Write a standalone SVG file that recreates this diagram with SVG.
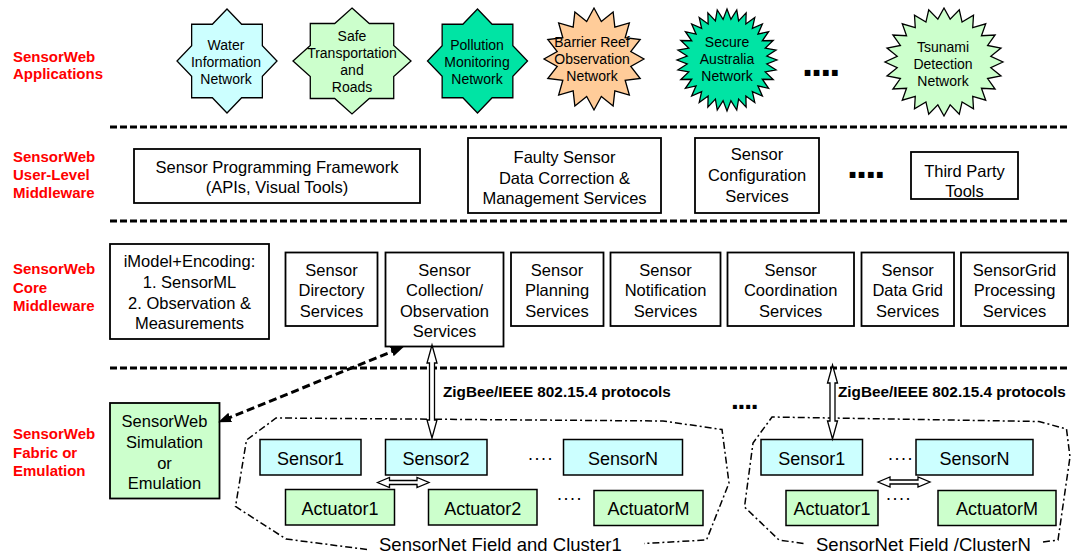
<svg xmlns="http://www.w3.org/2000/svg" xmlns:xlink="http://www.w3.org/1999/xlink" width="1073" height="554" viewBox="0 0 1073 554">
<style>
.lbl{font-family:"Liberation Sans",Arial,sans-serif;font-weight:bold;font-size:15px;fill:#ff0000}
.t{font-family:"Liberation Sans",Arial,sans-serif;font-size:16.5px;fill:#000;text-anchor:middle}
.ts{font-family:"Liberation Sans",Arial,sans-serif;font-size:14px;fill:#000;text-anchor:middle}
.tb{font-family:"Liberation Sans",Arial,sans-serif;font-size:18px;fill:#000;text-anchor:middle}
.tz{font-family:"Liberation Sans",Arial,sans-serif;font-size:15.3px;font-weight:bold;fill:#000}
.tc{font-family:"Liberation Sans",Arial,sans-serif;font-size:18.5px;fill:#000}
.dots{font-family:"Liberation Sans",Arial,sans-serif;font-weight:bold;fill:#000}
.sd{font-family:"Liberation Sans",Arial,sans-serif;font-size:18px;fill:#000;letter-spacing:1.5px}
.box{fill:#fff;stroke:#000;stroke-width:1.8}
.sen{fill:#ccffff;stroke:#000;stroke-width:1.5}
.act{fill:#ccffcc;stroke:#000;stroke-width:1.5}
.star{stroke:#000;stroke-width:1.3;vector-effect:non-scaling-stroke}
.sep{stroke:#000;stroke-width:3;stroke-dasharray:7 3;fill:none}
.clu{fill:none;stroke:#000;stroke-width:1.5;stroke-dasharray:7 3 2 3}
.blk{fill:#fff;stroke:#000;stroke-width:1.3}
.dash{fill:none;stroke:#000;stroke-width:3;stroke-dasharray:8 4}
</style>
<defs>
<marker id="ah" viewBox="0 0 13 10" refX="6" refY="5" markerWidth="13" markerHeight="10" markerUnits="userSpaceOnUse" orient="auto-start-reverse">
<path d="M0,0 L13,5 L0,10 Z" fill="#000"/>
</marker>
<polygon id="star8" class="star" points="0,-1 0.2929,-0.7071 0.7071,-0.7071 0.7071,-0.2929 1,0 0.7071,0.2929 0.7071,0.7071 0.2929,0.7071 0,1 -0.2929,0.7071 -0.7071,0.7071 -0.7071,0.2929 -1,0 -0.7071,-0.2929 -0.7071,-0.7071 -0.2929,-0.7071"/>
<polygon id="star16" class="star" points="1,0 0.7356,0.1463 0.9239,0.3827 0.6236,0.4167 0.7071,0.7071 0.4167,0.6236 0.3827,0.9239 0.1463,0.7356 0,1 -0.1463,0.7356 -0.3827,0.9239 -0.4167,0.6236 -0.7071,0.7071 -0.6236,0.4167 -0.9239,0.3827 -0.7356,0.1463 -1,0 -0.7356,-0.1463 -0.9239,-0.3827 -0.6236,-0.4167 -0.7071,-0.7071 -0.4167,-0.6236 -0.3827,-0.9239 -0.1463,-0.7356 0,-1 0.1463,-0.7356 0.3827,-0.9239 0.4167,-0.6236 0.7071,-0.7071 0.6236,-0.4167 0.9239,-0.3827 0.7356,-0.1463"/>
<polygon id="star24" class="star" points="1,0 0.7931,0.1044 0.9659,0.2588 0.7391,0.3062 0.8660,0.5 0.6347,0.4870 0.7071,0.7071 0.4870,0.6347 0.5,0.8660 0.3062,0.7391 0.2588,0.9659 0.1044,0.7931 0,1 -0.1044,0.7931 -0.2588,0.9659 -0.3062,0.7391 -0.5,0.8660 -0.4870,0.6347 -0.7071,0.7071 -0.6347,0.4870 -0.8660,0.5 -0.7391,0.3062 -0.9659,0.2588 -0.7931,0.1044 -1,0 -0.7931,-0.1044 -0.9659,-0.2588 -0.7391,-0.3062 -0.8660,-0.5 -0.6347,-0.4870 -0.7071,-0.7071 -0.4870,-0.6347 -0.5,-0.8660 -0.3062,-0.7391 -0.2588,-0.9659 -0.1044,-0.7931 0,-1 0.1044,-0.7931 0.2588,-0.9659 0.3062,-0.7391 0.5,-0.8660 0.4870,-0.6347 0.7071,-0.7071 0.6347,-0.4870 0.8660,-0.5 0.7391,-0.3062 0.9659,-0.2588 0.7931,-0.1044"/>
<polygon id="star32" class="star" points="1,0 0.7961,0.0784 0.9808,0.1951 0.7656,0.2322 0.9239,0.3827 0.7055,0.3771 0.8315,0.5556 0.6184,0.5075 0.7071,0.7071 0.5075,0.6184 0.5556,0.8315 0.3771,0.7055 0.3827,0.9239 0.2322,0.7656 0.1951,0.9808 0.0784,0.7961 0,1 -0.0784,0.7961 -0.1951,0.9808 -0.2322,0.7656 -0.3827,0.9239 -0.3771,0.7055 -0.5556,0.8315 -0.5075,0.6184 -0.7071,0.7071 -0.6184,0.5075 -0.8315,0.5556 -0.7055,0.3771 -0.9239,0.3827 -0.7656,0.2322 -0.9808,0.1951 -0.7961,0.0784 -1,0 -0.7961,-0.0784 -0.9808,-0.1951 -0.7656,-0.2322 -0.9239,-0.3827 -0.7055,-0.3771 -0.8315,-0.5556 -0.6184,-0.5075 -0.7071,-0.7071 -0.5075,-0.6184 -0.5556,-0.8315 -0.3771,-0.7055 -0.3827,-0.9239 -0.2322,-0.7656 -0.1951,-0.9808 -0.0784,-0.7961 0,-1 0.0784,-0.7961 0.1951,-0.9808 0.2322,-0.7656 0.3827,-0.9239 0.3771,-0.7055 0.5556,-0.8315 0.5075,-0.6184 0.7071,-0.7071 0.6184,-0.5075 0.8315,-0.5556 0.7055,-0.3771 0.9239,-0.3827 0.7656,-0.2322 0.9808,-0.1951 0.7961,-0.0784"/>
</defs>
<rect width="1073" height="554" fill="#fff"/>

<g id="layer-labels">
<text class="lbl" x="13" y="61.5">SensorWeb</text>
<text class="lbl" x="13" y="79">Applications</text>
<text class="lbl" x="13" y="161.5">SensorWeb</text>
<text class="lbl" x="13" y="179.5">User-Level</text>
<text class="lbl" x="13" y="198">Middleware</text>
<text class="lbl" x="13" y="274">SensorWeb</text>
<text class="lbl" x="13" y="292.5">Core</text>
<text class="lbl" x="13" y="311">Middleware</text>
<text class="lbl" x="13" y="438.5">SensorWeb</text>
<text class="lbl" x="13" y="457.5">Fabric or</text>
<text class="lbl" x="13" y="475.5">Emulation</text>
</g>

<g id="separators">
<line class="sep" x1="110" y1="127" x2="1068" y2="127"/>
<line class="sep" x1="110" y1="221" x2="1068" y2="221"/>
<line class="sep" x1="110" y1="368" x2="1068" y2="368"/>
</g>

<g id="app-water">
<use xlink:href="#star8" fill="#ccffff" transform="translate(227,61) scale(50,52)"/>
<text class="ts" x="226" y="50">Water</text>
<text class="ts" x="226" y="67">Information</text>
<text class="ts" x="226" y="84">Network</text>
</g>
<g id="app-safe">
<use xlink:href="#star8" fill="#ccffcc" transform="translate(352,61) scale(59,53)"/>
<text class="ts" x="352" y="41">Safe</text>
<text class="ts" x="352" y="58">Transportation</text>
<text class="ts" x="352" y="75">and</text>
<text class="ts" x="352" y="92">Roads</text>
</g>
<g id="app-pollution">
<use xlink:href="#star8" fill="#00e4a4" transform="translate(477.5,61) scale(50,52)"/>
<text class="ts" x="477" y="50">Pollution</text>
<text class="ts" x="477" y="67">Monitoring</text>
<text class="ts" x="477" y="84">Network</text>
</g>
<g id="app-reef">
<use xlink:href="#star16" fill="#ffcc99" transform="translate(594,59) scale(50,51)"/>
<text class="ts" x="592" y="47">Barrier Reef</text>
<text class="ts" x="592" y="64">Observation</text>
<text class="ts" x="592" y="81">Network</text>
</g>
<g id="app-secure">
<use xlink:href="#star32" fill="#00e4a4" transform="translate(727,60) scale(50,51)"/>
<text class="ts" x="727" y="47">Secure</text>
<text class="ts" x="727" y="64">Australia</text>
<text class="ts" x="727" y="81">Network</text>
</g>
<g id="app-dots">
<text class="dots" x="802" y="75.5" font-size="40" letter-spacing="-2">....</text>
</g>
<g id="app-tsunami">
<use xlink:href="#star24" fill="#ccffcc" transform="translate(944,62) scale(59,54)"/>
<text class="ts" x="943" y="52">Tsunami</text>
<text class="ts" x="943" y="69">Detection</text>
<text class="ts" x="943" y="86">Network</text>
</g>

<g id="mw-programming">
<rect class="box" x="134" y="149" width="286" height="54"/>
<text class="t" x="277" y="173">Sensor Programming Framework</text>
<text class="t" x="277" y="193">(APIs, Visual Tools)</text>
</g>
<g id="mw-faulty">
<rect class="box" x="468" y="138" width="193" height="75"/>
<text class="t" x="564.5" y="163">Faulty Sensor</text>
<text class="t" x="564.5" y="183.5">Data Correction &amp;</text>
<text class="t" x="564.5" y="204">Management Services</text>
</g>
<g id="mw-config">
<rect class="box" x="695" y="138" width="124" height="75"/>
<text class="t" x="757" y="160">Sensor</text>
<text class="t" x="757" y="181">Configuration</text>
<text class="t" x="757" y="202">Services</text>
</g>
<g id="mw-dots">
<text class="dots" x="847" y="178" font-size="40" letter-spacing="-2">....</text>
</g>
<g id="mw-thirdparty">
<rect class="box" x="911" y="152" width="107" height="47"/>
<text class="t" x="964.5" y="177">Third Party</text>
<text class="t" x="964.5" y="197">Tools</text>
</g>

<g id="core-imodel">
<rect class="box" x="110" y="244" width="159" height="95"/>
<text class="t" x="189.5" y="267">iModel+Encoding:</text>
<text class="t" x="189.5" y="288">1. SensorML</text>
<text class="t" x="189.5" y="308.5">2. Observation &amp;</text>
<text class="t" x="189.5" y="328.5">Measurements</text>
</g>
<g id="core-directory">
<rect class="box" x="285.5" y="252.5" width="92" height="73.5"/>
<text class="t" x="331.5" y="276">Sensor</text>
<text class="t" x="331.5" y="296">Directory</text>
<text class="t" x="331.5" y="316.5">Services</text>
</g>
<g id="core-collection">
<rect class="box" x="385.5" y="252.5" width="118" height="94"/>
<text class="t" x="444.5" y="276">Sensor</text>
<text class="t" x="444.5" y="296">Collection/</text>
<text class="t" x="444.5" y="316.5">Observation</text>
<text class="t" x="444.5" y="337">Services</text>
</g>
<g id="core-planning">
<rect class="box" x="511" y="252.5" width="92.5" height="73.5"/>
<text class="t" x="557" y="276">Sensor</text>
<text class="t" x="557" y="296">Planning</text>
<text class="t" x="557" y="316.5">Services</text>
</g>
<g id="core-notification">
<rect class="box" x="610.5" y="252.5" width="110" height="73.5"/>
<text class="t" x="665.5" y="276">Sensor</text>
<text class="t" x="665.5" y="296">Notification</text>
<text class="t" x="665.5" y="316.5">Services</text>
</g>
<g id="core-coordination">
<rect class="box" x="727.5" y="252.5" width="126.5" height="73.5"/>
<text class="t" x="790.7" y="276">Sensor</text>
<text class="t" x="790.7" y="296">Coordination</text>
<text class="t" x="790.7" y="316.5">Services</text>
</g>
<g id="core-datagrid">
<rect class="box" x="861.5" y="252.5" width="92.5" height="73.5"/>
<text class="t" x="907.7" y="276">Sensor</text>
<text class="t" x="907.7" y="296">Data Grid</text>
<text class="t" x="907.7" y="316.5">Services</text>
</g>
<g id="core-sensorgrid">
<rect class="box" x="961" y="252.5" width="107" height="73.5"/>
<text class="t" x="1014.5" y="276">SensorGrid</text>
<text class="t" x="1014.5" y="296">Processing</text>
<text class="t" x="1014.5" y="316.5">Services</text>
</g>

<g id="fabric-simulation">
<rect class="act" x="110" y="403" width="109.5" height="95.5" style="stroke-width:1.8"/>
<text class="t" x="164.5" y="427">SensorWeb</text>
<text class="t" x="164.5" y="448">Simulation</text>
<text class="t" x="164.5" y="468.5">or</text>
<text class="t" x="164.5" y="489">Emulation</text>
</g>

<g id="cluster1">
<path class="clu" d="M367,549.5 L286,539 L235.5,506.5 L246.5,440 L276,418 L663,421 L722,429.5 L729,483 L706.5,540 L644,543.5"/>
<text class="tc" x="379" y="551">SensorNet Field and Cluster1</text>
</g>
<g id="c1-sensor1">
<rect class="sen" x="260" y="439.5" width="101" height="35.5"/>
<text class="tb" x="310.5" y="464.5">Sensor1</text>
</g>
<g id="c1-sensor2">
<rect class="sen" x="385.5" y="439.5" width="101.5" height="35.5"/>
<text class="tb" x="436" y="464.5">Sensor2</text>
</g>
<g id="c1-sensorN">
<rect class="sen" x="563.5" y="439.5" width="119" height="35.5"/>
<text class="tb" x="623" y="464.5">SensorN</text>
</g>
<g id="c1-actuator1">
<rect class="act" x="285.5" y="489.5" width="109" height="35.5"/>
<text class="tb" x="340" y="514.5">Actuator1</text>
</g>
<g id="c1-actuator2">
<rect class="act" x="428.5" y="489.5" width="108.5" height="35.5"/>
<text class="tb" x="482.7" y="514.5">Actuator2</text>
</g>
<g id="c1-actuatorM">
<rect class="act" x="594" y="490.5" width="109" height="35"/>
<text class="tb" x="648.5" y="515">ActuatorM</text>
</g>
<g id="c1-dots">
<text class="sd" x="528" y="460">....</text>
<text class="sd" x="557" y="500">....</text>
</g>

<g id="cluster-dots">
<text class="dots" x="731" y="409" font-size="28" letter-spacing="-1.2">....</text>
</g>

<g id="clusterN">
<path class="clu" d="M803.5,543.5 L779,540 L744.5,507 L753,443 L772,417 L1039,421.5 L1066.5,429 L1070,457 L1058,540 L1042.5,542"/>
<text class="tc" x="816" y="551">SensorNet Field /ClusterN</text>
</g>
<g id="cN-sensor1">
<rect class="sen" x="761" y="439.5" width="101.5" height="35.5"/>
<text class="tb" x="811.7" y="464.5">Sensor1</text>
</g>
<g id="cN-sensorN">
<rect class="sen" x="916" y="439.5" width="117" height="35.5"/>
<text class="tb" x="974.5" y="464.5">SensorN</text>
</g>
<g id="cN-actuator1">
<rect class="act" x="786" y="490.5" width="92" height="35"/>
<text class="tb" x="832" y="515">Actuator1</text>
</g>
<g id="cN-actuatorM">
<rect class="act" x="938" y="490.5" width="118" height="35"/>
<text class="tb" x="997" y="515">ActuatorM</text>
</g>
<g id="cN-dots">
<text class="sd" x="888" y="460">....</text>
<text class="sd" x="886" y="500">....</text>
</g>

<g id="connectors">
<line class="dash" x1="224.6" y1="419.7" x2="397.4" y2="349.3" marker-start="url(#ah)" marker-end="url(#ah)"/>
<polygon class="blk" points="432,345 437,363 434.5,363 434.5,420 437,420 432,438 427,420 429.5,420 429.5,363 427,363"/>
<text class="tz" x="443" y="396.5">ZigBee/IEEE 802.15.4 protocols</text>
<polygon class="blk" points="832.5,365 837.5,383 835,383 835,421 837.5,421 832.5,439 827.5,421 830,421 830,383 827.5,383"/>
<text class="tz" x="838" y="396.5">ZigBee/IEEE 802.15.4 protocols</text>
<polygon class="blk" points="377.5,482.5 389.5,477.5 389.5,480.5 417,480.5 417,477.5 429,482.5 417,487.5 417,484.5 389.5,484.5 389.5,487.5"/>
<polygon class="blk" points="878,482 890,477 890,480 918,480 918,477 930,482 918,487 918,484 890,484 890,487"/>
</g>
</svg>
